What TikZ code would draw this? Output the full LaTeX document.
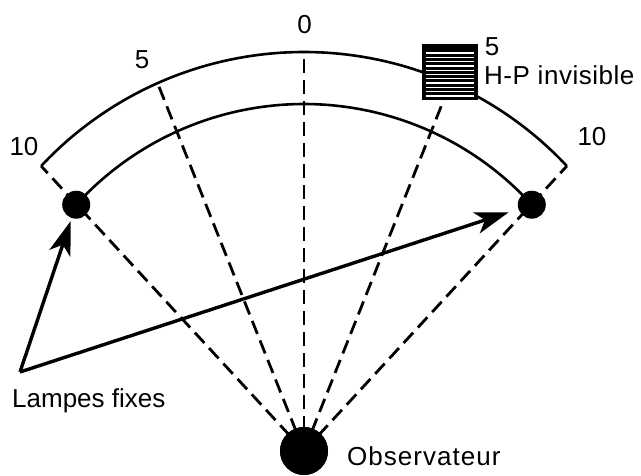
\documentclass[tikz,border=0pt]{standalone}
\usepackage{fontspec}
\setmainfont{Liberation Sans}
\usetikzlibrary{calc,arrows.meta}
\begin{document}
\begin{tikzpicture}[x=1pt,y=1pt,
  lbl/.style={inner sep=0pt, font=\fontsize{26}{30}\selectfont},
  arcline/.style={line width=2.6pt},
  sight/.style={line width=2.8pt, dash pattern=on 14pt off 7pt},
  lamp/.style={circle, fill=black, minimum size=28pt, inner sep=0pt},
  obs/.style={circle, fill=black, minimum size=48pt, inner sep=0pt},
  pointer/.style={line width=3.4pt, -{Stealth[length=34pt, width=22pt, inset=9pt]}},
  hpbox/.style={draw=black, fill=black, line width=1pt, minimum width=55pt, minimum height=55pt, inner sep=0pt}
]
\useasboundingbox (0,0) rectangle (641,475);
\coordinate (C) at (304,63);
\node[obs] (O) at (304,24) {};
% points on the arcs
\coordinate (EL) at ($(C)+(136.9:360)$);
\coordinate (ER) at ($(C)+(43.1:360)$);
\coordinate (T0) at ($(C)+(90:360)$);
\coordinate (T5L) at ($(C)+(114:360)$);
\coordinate (T5R) at ($(C)+(66:360)$);
% arcs
\draw[arcline] (ER) arc[start angle=43.1, end angle=136.9, radius=360];
\draw[arcline] ($(C)+(42.3:308)$) arc[start angle=42.3, end angle=137.7, radius=308];
% sight lines
\draw[sight] (O.center) -- (T0);
\draw[sight] (O.center) -- (T5L);
\draw[sight] (O.center) -- (T5R);
\draw[sight] (O.center) -- (EL);
\draw[sight] (O.center) -- (ER);
% lamps
\node[lamp] (LL) at ($(C)+(137.7:308)$) {};
\node[lamp] (LR) at ($(C)+(42.3:308)$) {};
% hatched box
\node[hpbox] (hp) at (449.5,402.5) {};
\foreach \i in {0,...,10}{
  \draw[white, line width=1.3pt] ([xshift=4pt, yshift={-8.5pt-4.3pt*\i}]hp.north west) -- ([xshift=-4pt, yshift={-8.5pt-4.3pt*\i}]hp.north east);
}
% observer on top
\node[obs] at (O) {};
% arrows
\coordinate (S) at (20,103);
\draw[pointer, shorten >=3pt] (S) -- (LL);
\draw[pointer, shorten >=10pt] (S) -- (LR);
% labels
\node[lbl] (l0) at (304.5,450) {0};
\node[lbl] (l5l) at (142,415) {5};
\node[lbl] (l10l) at (24,328) {10};
\node[lbl] (l5r) at (492,428) {5};
\node[lbl, anchor=base west] (lhp) at (484,390) {\addfontfeature{LetterSpace=2}H-P invisible};
\node[lbl] (l10r) at (592,338) {10};
\node[lbl, anchor=base west] (llamp) at (12,68) {Lampes fixes};
\node[lbl, anchor=base west] (lobs) at (347,10) {\addfontfeature{LetterSpace=4}Observateur};
\end{tikzpicture}
\end{document}
